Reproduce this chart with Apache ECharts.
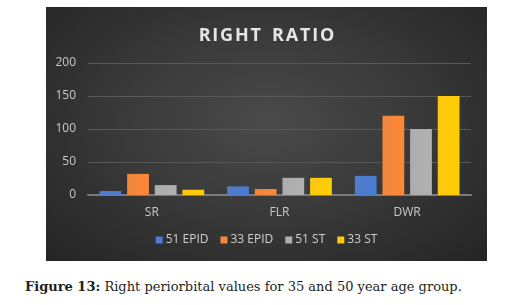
<!DOCTYPE html>
<html>
<head>
<meta charset="utf-8">
<script src="https://cdn.jsdelivr.net/npm/echarts@6/dist/echarts.min.js"></script>
<style>
  html, body { margin: 0; padding: 0; background: #fff; width: 518px; height: 305px; overflow: hidden; }
  #panel {
    position: absolute; left: 46px; top: 7px; width: 441px; height: 254px;
    background: radial-gradient(ellipse at 50% 45%, #4a4a4a 0%, #3a3a3a 45%, #242424 100%);
  }
  #chart { width: 441px; height: 254px; }
  #caption {
    position: absolute; left: 25px; top: 279px;
    font-family: "DejaVu Serif", "Liberation Serif", serif; font-size: 13px; color: #231f20;
    white-space: nowrap;
  }
</style>
</head>
<body>
<div id="panel"><div id="chart"></div></div>
<div id="caption"><b>Figure 13:</b> Right periorbital values for 35 and 50 year age group.</div>
<script>
var categories = ['SR', 'FLR', 'DWR'];
var seriesNames = ['51 EPID', '33 EPID', '51 ST', '33 ST'];
var epid51 = [6, 13, 29];
var epid33 = [32, 9, 120];
var st51 = [15, 26, 100];
var st33 = [8, 26, 150];
var yTicks = [0, 50, 100, 150, 200];

var colors = ['#4472c4', '#ed7d31', '#a5a5a5', '#ffc000'];
var values = [epid51, epid33, st51, st33];

function shade(c) {
    return new echarts.graphic.LinearGradient(0, 0, 1, 0, [
        { offset: 0, color: echarts.color.lift(c, 0.08) },
        { offset: 1, color: echarts.color.lift(c, -0.08) }
    ]);
}

var chart = echarts.init(document.getElementById('chart'), null, { renderer: 'canvas' });

chart.setOption({
    backgroundColor: 'transparent',
    animation: false,
    color: colors,
    textStyle: { fontFamily: 'Open Sans' },
    title: {
        // hair spaces between letters to mimic the spaced-out title
        text: 'R I G H T   R A T I O'.replace(/ (?! )/g, '\u200a'),
        left: 'center',
        top: 15,
        textStyle: { color: '#e6e6e6', fontSize: 18, fontWeight: 'bold', fontFamily: 'Open Sans' }
    },
    legend: {
        data: seriesNames,
        bottom: 10,
        left: 'center',
        itemWidth: 7,
        itemHeight: 7,
        itemGap: 12,
        icon: 'rect',
        textStyle: { color: '#cfcfcf', fontSize: 12, padding: [0, 0, 0, -2] }
    },
    grid: { left: 42, right: 16, top: 56, bottom: 66 },
    xAxis: {
        type: 'category',
        data: categories,
        axisLine: { lineStyle: { color: '#7a7a7a', width: 2 } },
        axisTick: { show: false },
        axisLabel: { color: '#c8c8c8', fontSize: 12, margin: 12 }
    },
    yAxis: {
        type: 'value',
        min: yTicks[0],
        max: yTicks[yTicks.length - 1],
        interval: 50,
        axisLine: { show: false },
        axisTick: { show: false },
        axisLabel: { color: '#c8c8c8', fontSize: 12, margin: 12 },
        splitLine: { lineStyle: { color: '#585858', width: 1 } }
    },
    series: seriesNames.map(function (name, i) {
        return {
            name: name,
            type: 'bar',
            data: values[i],
            barGap: '27%',
            barCategoryGap: '18%',
            itemStyle: { color: shade(colors[i]) },
            emphasis: { disabled: true }
        };
    })
});
</script>
</body>
</html>
